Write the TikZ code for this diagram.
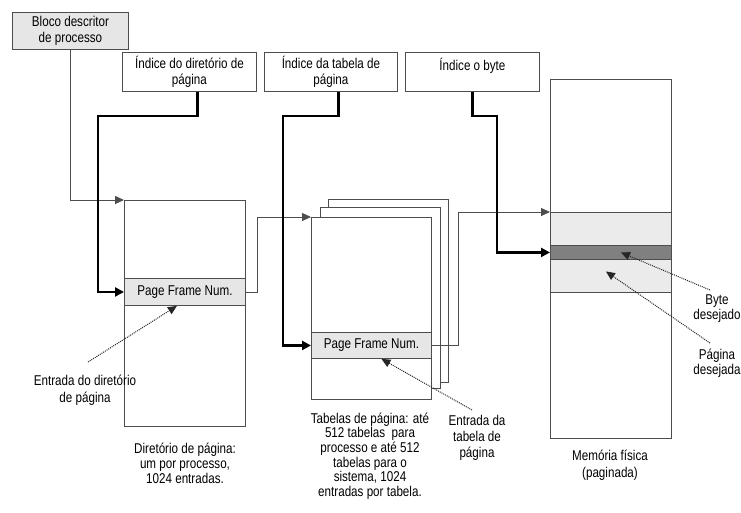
\documentclass[tikz,border=0pt]{standalone}
\usepackage{fontspec}
\setmainfont[FakeStretch=0.82]{Liberation Sans}
\usetikzlibrary{arrows.meta}
\definecolor{lightband}{HTML}{EBEBEB}
\definecolor{darkband}{HTML}{808080}
\definecolor{pfnfill}{HTML}{E6E6E6}
\definecolor{edge}{HTML}{4D4D4D}
\begin{document}
\begin{tikzpicture}[x=1pt,y=-1pt,
  font=\fontsize{14.2}{16}\selectfont,
  box/.style={draw=edge, line width=0.9pt, fill=white, inner sep=0pt, anchor=north west, align=center, text=black},
  gbox/.style={box, fill=pfnfill},
  band/.style={draw=edge, line width=0.9pt, inner sep=0pt, anchor=north west, minimum width=121pt},
  txt/.style={align=center, inner sep=0pt, text=black},
  conn/.style={draw=edge, line width=0.9pt, -{Triangle[length=9pt,width=8pt]}},
  bold/.style={draw=black, line width=2.6pt, -{Triangle[length=9pt,width=9pt]}},
  pointer/.style={draw=black!85, line width=1pt, dash pattern=on 1pt off 1pt, -{Triangle[length=9pt,width=8pt]}}]
\useasboundingbox (0,0) rectangle (741,513);

% top boxes
\node[gbox, minimum width=116pt, minimum height=37pt] (bloco) at (12,12) {Bloco descritor\\de processo};
\node[box, minimum width=134pt, minimum height=39pt] (idxdir) at (122,52) {Índice do diretório de\\página};
\node[box, minimum width=133pt, minimum height=39pt] (idxtab) at (264,52) {Índice da tabela de\\página};
\node[box, minimum width=134pt, minimum height=39pt] (idxbyte) at (405,52) {Índice o byte\\\mbox{}};

% page directory
\node[box, minimum width=121pt, minimum height=226pt] (dir) at (124,200) {};
\node[gbox, minimum width=121pt, minimum height=27pt] (dirpfn) at (124,278) {Page Frame Num.};

% page tables (stack)
\node[box, minimum width=120pt, minimum height=183pt] (pt3) at (328,199) {};
\node[box, minimum width=120pt, minimum height=181pt] (pt2) at (320,207) {};
\node[box, minimum width=120pt, minimum height=182pt] (pt1) at (311,217) {};
\node[gbox, minimum width=120pt, minimum height=26pt] (ptpfn) at (311,332) {Page Frame Num.};

% physical memory
\node[box, minimum width=121pt, minimum height=359pt] (mem) at (550,79) {};
\node[band, fill=lightband, minimum height=33pt] (bandA) at (550,212) {};
\node[band, fill=darkband, minimum height=14pt] (bandD) at (550,245) {};
\node[band, fill=lightband, minimum height=33pt] (bandB) at (550,259) {};

% thin connectors
\draw[conn] (bloco.south) |- (dir.north west);
\draw[conn] (dirpfn.east) -- ++(12,0) |- (pt1.north west);
\draw[conn] (ptpfn.east) -- ++(27,0) |- (bandA.north west);

% bold connectors
\draw[bold] ([xshift=8pt]idxdir.south) |- (98,116) |- (dirpfn.west);
\draw[bold] ([xshift=7.5pt]idxtab.south) |- (283,116) |- (ptpfn.west);
\draw[bold] (idxbyte.south) |- (497,116) |- (bandD.west);

% labels
\node[txt, font=\fontsize{14.2}{17}\selectfont] (lbldirent) at (85,390) {Entrada do diretório\\de página};
\node[txt, font=\fontsize{14.2}{15}\selectfont] (lbldir) at (185,463) {Diretório de página:\\um por processo,\\1024 entradas.};
\node[txt, font=\fontsize{14.2}{14.6}\selectfont] (lblpt) at (370,456) {Tabelas de página: até\\512 tabelas\ \ para\\processo e até 512\\tabelas para o\\sistema, 1024\\entradas por tabela.};
\node[txt, font=\fontsize{14.2}{16}\selectfont] (lblptent) at (477,438) {Entrada da\\tabela de\\página};
\node[txt, font=\fontsize{14.2}{15}\selectfont] (lblbyte) at (717,309) {Byte\\desejado};
\node[txt, font=\fontsize{14.2}{15.5}\selectfont] (lblpag) at (717,363) {Página\\desejada};
\node[txt, font=\fontsize{14.2}{17}\selectfont] (lblmem) at (610,465) {Memória física\\(paginada)};

% dotted pointers
\coordinate (p1) at (88,362);
\coordinate (p2) at (472,410);
\coordinate (p3) at (710,290);
\coordinate (p4) at (710,343);
\draw[pointer] (p1) -- ([xshift=-8pt]dirpfn.south);
\draw[pointer] (p2) -- ([xshift=10pt]ptpfn.south);
\draw[pointer] (p3) -- ([xshift=10pt]bandD.center);
\draw[pointer] (p4) -- ([xshift=-5pt,yshift=4.5pt]bandB.center);
\end{tikzpicture}
\end{document}
